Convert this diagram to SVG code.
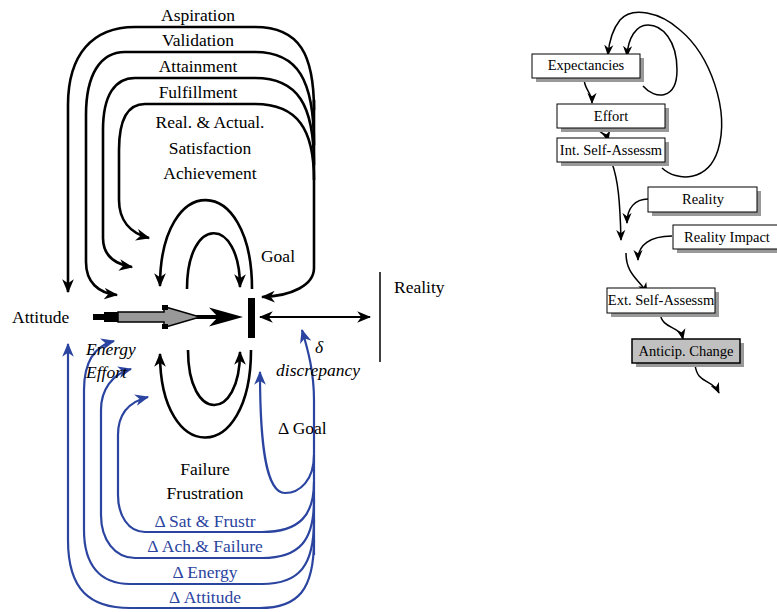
<svg xmlns="http://www.w3.org/2000/svg" width="777" height="612" viewBox="0 0 777 612">
<style>
.t{font-family:"Liberation Serif","Times New Roman",serif;font-size:17.5px;fill:#000}
.tb{font-family:"Liberation Serif","Times New Roman",serif;font-size:17.5px;fill:#2a44a0}
.ti{font-family:"Liberation Serif","Times New Roman",serif;font-size:17.5px;font-style:italic;fill:#000}
.ts{font-family:"Liberation Serif","Times New Roman",serif;font-size:14.5px;fill:#000}
.lp{fill:none;stroke:#000;stroke-width:2.6}
.bl{fill:none;stroke:#2a44a0;stroke-width:2.2}
.rl{fill:none;stroke:#000;stroke-width:1.5}
.box{fill:#fff;stroke:#000;stroke-width:1}
.sh{fill:#999}
</style>
<defs>
<marker id="ah" viewBox="0 0 12 10" refX="11" refY="5" markerUnits="userSpaceOnUse" markerWidth="14" markerHeight="12" orient="auto-start-reverse"><path d="M0,0 L12,5 L0,10 L3.5,5 z" fill="#000"/></marker>
<marker id="ahb" viewBox="0 0 12 10" refX="11" refY="5" markerUnits="userSpaceOnUse" markerWidth="14" markerHeight="12" orient="auto"><path d="M0,0 L12,5 L0,10 L3.5,5 z" fill="#2a44a0"/></marker>
<marker id="ahs" viewBox="0 0 12 10" refX="11" refY="5" markerUnits="userSpaceOnUse" markerWidth="11" markerHeight="10" orient="auto"><path d="M0,0 L12,5 L0,10 L3.5,5 z" fill="#000"/></marker>
</defs>

<g id="connectors">
  <!-- black feedback loops -->
  <path class="lp" d="M314,100 L314,268 C314,285 292,296 262,297" marker-end="url(#ah)"/>
  <path class="lp" d="M314,110 C314,55 300,27 255,27 L135,27 C92,27 68,55 68,105 L68,292" marker-end="url(#ah)"/>
  <path class="lp" d="M314,145 C314,80 298,52 255,52 L125,52 C100,52 86,75 86,115 L86,262 C86,282 98,293 117,295" marker-end="url(#ah)"/>
  <path class="lp" d="M314,165 C314,105 298,78 255,78 L135,78 C115,78 103,95 103,130 L103,238 C103,255 114,264 132,267" marker-end="url(#ah)"/>
  <path class="lp" d="M314,180 C314,130 298,104 255,104 L145,104 C128,104 119,118 119,150 L119,200 C119,220 130,233 149,238" marker-end="url(#ah)"/>
  <!-- inner arcs -->
  <path class="lp" d="M252,289 C252,171 160,171 160,286" marker-end="url(#ah)"/>
  <path class="lp" d="M187,289 C187,215 240,215 240,287" marker-end="url(#ah)"/>
  <path class="lp" d="M251,350 C251,466 160,466 160,354" marker-end="url(#ah)"/>
  <path class="lp" d="M188,350 C188,423 240,423 240,352" marker-end="url(#ah)"/>
  <!-- main arrow -->
  <line x1="93" y1="317" x2="222" y2="317" stroke="#000" stroke-width="4"/>
  <polygon points="209,307.5 243,317 209,326.5 218,317" fill="#000"/>
  <rect x="93" y="314" width="12" height="6" fill="#000"/>
  <rect x="104" y="312" width="15" height="10" fill="#000"/>
  <polygon points="118,312 164,312 164,306.5 200,317 164,327.5 164,322 118,322" fill="#999" stroke="#000" stroke-width="1.5"/>
  <rect x="162" y="305" width="6" height="5" fill="#000"/>
  <rect x="162" y="324" width="6" height="5" fill="#000"/>
  <!-- discrepancy double arrow -->
  <line x1="260" y1="317" x2="370" y2="317" stroke="#000" stroke-width="2" marker-start="url(#ah)" marker-end="url(#ah)"/>
  <line x1="380" y1="272" x2="380" y2="362" stroke="#000" stroke-width="1.5"/>
  <!-- blue loops -->
  <path class="bl" d="M314,555 L314,400 C314,372 308,350 302,330" marker-end="url(#ahb)"/>
  <path class="bl" d="M314,540 C314,590 298,608 260,608 L130,608 C90,608 68,590 68,540 L68,344" marker-end="url(#ahb)"/>
  <path class="bl" d="M314,520 C314,565 300,584 262,584 L130,584 C100,584 84,565 84,530 L84,390 C84,362 95,346 114,341" marker-end="url(#ahb)"/>
  <path class="bl" d="M314,500 C314,540 300,558 262,558 L135,558 C115,558 101,540 101,515 L101,410 C101,390 112,374 131,369" marker-end="url(#ahb)"/>
  <path class="bl" d="M314,482 C314,515 300,532 262,532 L145,532 C128,532 118,515 118,495 L118,435 C118,415 128,402 148,397" marker-end="url(#ahb)"/>
  <path class="bl" d="M314,455 C314,480 300,493 285,493 C265,493 260,440 260,372" marker-end="url(#ahb)"/>
  <!-- right panel -->
  <path class="rl" d="M584,78 C584,90 592,92 592,103" marker-end="url(#ahs)"/>
  <path class="rl" d="M597,126 C598,134 606,132 608,141" marker-end="url(#ahs)"/>
  <path class="rl" d="M643,86 C655,100 677,100 677,70 C677,40 662,25 648,25 C636,25 628,38 627,56" marker-end="url(#ahs)"/>
  <path class="rl" d="M662,168 C677,182 708,182 718,150 C730,110 710,55 680,30 C660,12 632,6 620,20 C612,30 609,42 608,55" marker-end="url(#ahs)"/>
  <path class="rl" d="M612,163 C618,180 620,200 621,240" marker-end="url(#ahs)"/>
  <path class="rl" d="M648,199 C635,199 627,208 627,223" marker-end="url(#ahs)"/>
  <path class="rl" d="M672,236 C650,236 638,245 638,260" marker-end="url(#ahs)"/>
  <path class="rl" d="M626,253 C626,275 640,280 647,293" marker-end="url(#ahs)"/>
  <path class="rl" d="M660,313 C662,330 680,325 683,339" marker-end="url(#ahs)"/>
  <path class="rl" d="M695,364 C697,385 712,378 719,393" marker-end="url(#ahs)"/>
</g>

<g id="goal"><rect x="248" y="298" width="7" height="40" fill="#000"/></g>

<g id="labels">
  <text class="t" x="198" y="21" text-anchor="middle">Aspiration</text>
  <text class="t" x="198" y="46" text-anchor="middle">Validation</text>
  <text class="t" x="198" y="72" text-anchor="middle">Attainment</text>
  <text class="t" x="198" y="98" text-anchor="middle">Fulfillment</text>
  <text class="t" x="210" y="128" text-anchor="middle">Real. &amp; Actual.</text>
  <text class="t" x="210" y="154" text-anchor="middle">Satisfaction</text>
  <text class="t" x="210" y="179" text-anchor="middle">Achievement</text>
  <text class="t" x="278" y="262" text-anchor="middle">Goal</text>
  <text class="t" x="12" y="323">Attitude</text>
  <text class="t" x="394" y="293">Reality</text>
  <text class="ti" x="86" y="355">Energy</text>
  <text class="ti" x="86" y="378">Effort</text>
  <text class="ti" x="319" y="353" text-anchor="middle">δ</text>
  <text class="ti" x="318" y="376" text-anchor="middle">discrepancy</text>
  <text class="t" x="278" y="434">Δ Goal</text>
  <text class="t" x="205" y="475" text-anchor="middle">Failure</text>
  <text class="t" x="205" y="499" text-anchor="middle">Frustration</text>
  <text class="tb" x="205" y="527" text-anchor="middle">Δ Sat &amp; Frustr</text>
  <text class="tb" x="205" y="552" text-anchor="middle">Δ Ach.&amp; Failure</text>
  <text class="tb" x="205" y="578" text-anchor="middle">Δ Energy</text>
  <text class="tb" x="205" y="603" text-anchor="middle">Δ Attitude</text>
</g>

<g id="expectancies"><rect class="sh" x="536" y="58" width="108" height="24"/><rect class="box" x="532" y="54" width="108" height="24"/><text class="ts" x="586" y="70" text-anchor="middle">Expectancies</text></g>
<g id="effort"><rect class="sh" x="561" y="108" width="108" height="24"/><rect class="box" x="557" y="104" width="108" height="24"/><text class="ts" x="611" y="121" text-anchor="middle">Effort</text></g>
<g id="int-self"><rect class="sh" x="561" y="142" width="108" height="24"/><rect class="box" x="557" y="138" width="108" height="24"/><text class="ts" x="611" y="155" text-anchor="middle">Int. Self-Assessm</text></g>
<g id="reality"><rect class="sh" x="652" y="191" width="109" height="25"/><rect class="box" x="648" y="187" width="109" height="25"/><text class="ts" x="703" y="204" text-anchor="middle">Reality</text></g>
<g id="reality-impact"><rect class="sh" x="677" y="229" width="108" height="24"/><rect class="box" x="673" y="225" width="108" height="24"/><text class="ts" x="727" y="242" text-anchor="middle">Reality Impact</text></g>
<g id="ext-self"><rect class="sh" x="611" y="292" width="108" height="25"/><rect class="box" x="607" y="288" width="108" height="25"/><text class="ts" x="661" y="305" text-anchor="middle">Ext. Self-Assessm</text></g>
<g id="anticip"><rect class="sh" x="636" y="343" width="108" height="24"/><rect x="632" y="339" width="108" height="24" fill="#c0c0c0" stroke="#000" stroke-width="1.5"/><text class="ts" x="686" y="356" text-anchor="middle">Anticip. Change</text></g>
</svg>
